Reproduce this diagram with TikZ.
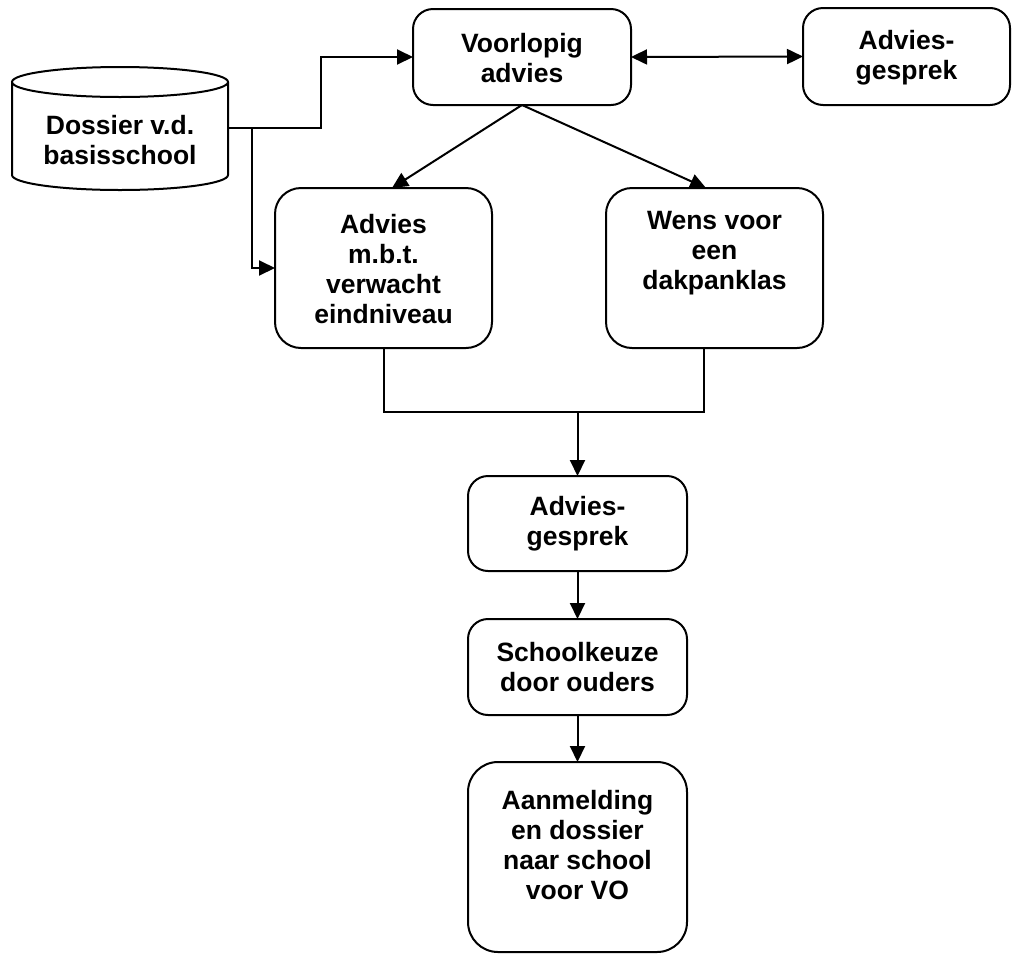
\documentclass[tikz,border=0pt]{standalone}
\usepackage{fontspec}
\setmainfont{Liberation Sans}
\usetikzlibrary{arrows.meta,calc}
\tikzset{
  line/.style={line width=2pt, line join=miter},
  arr/.style={line, -{Triangle[length=16pt,width=15pt]}},
  dbl/.style={line, {Triangle[length=16pt,width=15pt]}-{Triangle[length=16pt,width=15pt]}},
  box/.style={draw, line width=2pt, rounded corners=20pt, inner sep=0pt, outer sep=0pt},
  txt/.style={align=center, inner sep=0pt, font=\bfseries\fontsize{26.5}{30}\selectfont}
}
\begin{document}
\begin{tikzpicture}[x=1pt,y=-1pt]
\useasboundingbox (0,0) rectangle (1012,954);
% boxes
\node[box, minimum width=218pt, minimum height=96pt] (vl) at (522,57) {};
\node[box, minimum width=207pt, minimum height=97pt] (agt) at (906.5,56.5) {};
\node[box, rounded corners=26pt, minimum width=217pt, minimum height=160pt] (adv) at (383.5,268) {};
\node[box, rounded corners=26pt, minimum width=217pt, minimum height=160pt] (wens) at (714.5,268) {};
\node[box, minimum width=219pt, minimum height=95pt] (agm) at (577.5,523.5) {};
\node[box, minimum width=219pt, minimum height=96pt] (sk) at (577.5,667) {};
\node[box, rounded corners=30pt, minimum width=219pt, minimum height=190pt] (aan) at (577.5,857) {};
% cylinder
\node[inner sep=0pt, outer sep=0pt, minimum width=216pt, minimum height=123pt] (dos) at (120,128) {};
\draw[line] (12,82) -- (12,175) arc[start angle=180, end angle=360, x radius=108pt, y radius=15pt] -- (228,82);
\draw[line] (120,82) ellipse [x radius=108pt, y radius=15pt];
% texts
\node[txt] (vlt) at (522,58) {Voorlopig\\advies};
\node[txt] (agtt) at (906.5,58) {Advies-\\gesprek};
\node[txt] (dost) at (120,140) {Dossier v.d.\\basisschool};
\node[txt] (advt) at (383.5,269) {Advies\\m.b.t.\\verwacht\\eindniveau};
\node[txt] (wenst) at (714.5,253) {Wens voor\\een\\dakpanklas};
\node[txt] (agmt) at (577.5,524) {Advies-\\gesprek};
\node[txt] (skt) at (577.5,667) {Schoolkeuze\\door ouders};
\node[txt] (aant) at (577.5,845) {Aanmelding\\en dossier\\naar school\\voor VO};
% connectors
\coordinate (br) at (252,128);
\coordinate (jl) at (384,412);
\coordinate (jr) at (704,412);
\coordinate (jm) at (577.5,412);
\draw[arr] (dos.east) -- ++(93,0) |- (vl.west);
\draw[arr] (br) |- (adv.west);
\draw[dbl] (vl.east) -- (agt.west);
\draw[arr] (vl.south) -- ([xshift=8.5pt]adv.north);
\draw[arr] (vl.south) -- ([xshift=-8.5pt]wens.north);
\draw[line] (adv.south -| jl) -- (jl) -- (jr) -- (wens.south -| jr);
\draw[arr] (jm) -- (agm.north);
\draw[arr] (agm.south) -- (sk.north);
\draw[arr] (sk.south) -- (aan.north);
\end{tikzpicture}
\end{document}
